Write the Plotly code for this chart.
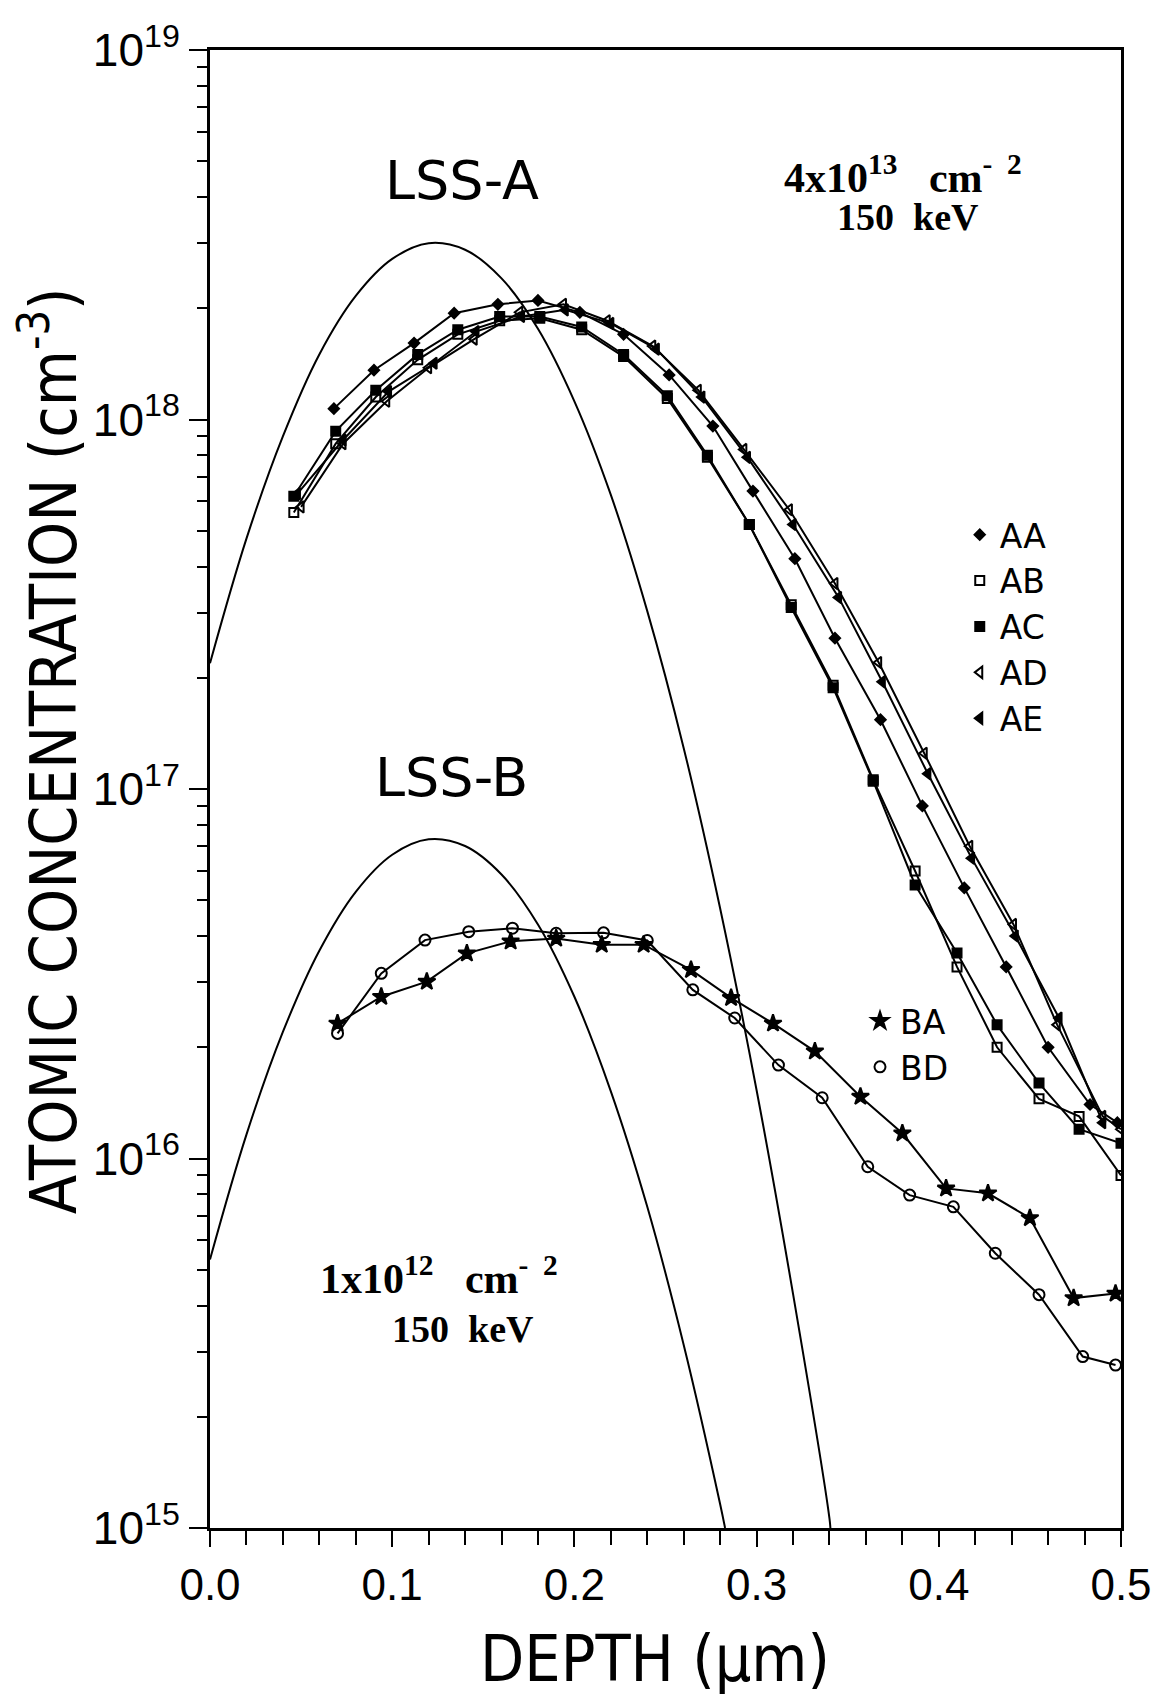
import plotly.graph_objects as go

# ---------------- data ----------------
lss_x = [0.0, 0.02, 0.04, 0.06, 0.08, 0.10, 0.12, 0.14, 0.16, 0.18, 0.20,
         0.22, 0.24, 0.26, 0.28, 0.30, 0.32, 0.34, 0.3405]
lss_a = [2.19e17, 4.76e17, 9.0e17, 1.50e18, 2.16e18, 2.72e18, 3.0e18, 2.88e18,
         2.41e18, 1.76e18, 1.12e18, 6.25e17, 3.03e17, 1.29e17, 4.75e16,
         1.53e16, 4.3e15, 1.06e15, 1.0e15]
lssb_x = [0.0, 0.02, 0.04, 0.06, 0.08, 0.10, 0.12, 0.14, 0.16, 0.18, 0.20,
          0.22, 0.24, 0.26, 0.28, 0.2827]
lss_b = [5.33e15, 1.16e16, 2.20e16, 3.65e16, 5.27e16, 6.64e16, 7.31e16, 7.01e16,
         5.87e16, 4.30e16, 2.74e16, 1.52e16, 7.4e15, 3.13e15, 1.16e15, 1.0e15]

aa_x = [0.068, 0.090, 0.112, 0.134, 0.158, 0.180, 0.203, 0.227, 0.252, 0.276,
        0.298, 0.321, 0.343, 0.368, 0.391, 0.414, 0.437, 0.460, 0.483, 0.498]
aa_y = [1.07e18, 1.36e18, 1.61e18, 1.94e18, 2.05e18, 2.1e18, 1.95e18, 1.70e18,
        1.32e18, 9.6e17, 6.4e17, 4.2e17, 2.56e17, 1.54e17, 9.0e16, 5.4e16,
        3.3e16, 2.0e16, 1.4e16, 1.25e16]

ab_x = [0.046, 0.069, 0.091, 0.114, 0.136, 0.159, 0.181, 0.204, 0.227, 0.251,
        0.273, 0.296, 0.319, 0.342, 0.364, 0.387, 0.410, 0.432, 0.455, 0.477, 0.500]
ab_y = [5.6e17, 8.6e17, 1.15e18, 1.45e18, 1.7e18, 1.85e18, 1.88e18, 1.75e18,
        1.48e18, 1.14e18, 7.9e17, 5.2e17, 3.15e17, 1.91e17, 1.06e17, 6.0e16,
        3.3e16, 2.0e16, 1.45e16, 1.3e16, 9.0e15]

ac_x = [0.046, 0.069, 0.091, 0.114, 0.136, 0.159, 0.181, 0.204, 0.227, 0.251,
        0.273, 0.296, 0.319, 0.342, 0.364, 0.387, 0.410, 0.432, 0.455, 0.477, 0.500]
ac_y = [6.2e17, 9.3e17, 1.2e18, 1.5e18, 1.75e18, 1.9e18, 1.9e18, 1.78e18,
        1.5e18, 1.16e18, 8.0e17, 5.2e17, 3.1e17, 1.88e17, 1.05e17, 5.5e16,
        3.6e16, 2.3e16, 1.6e16, 1.2e16, 1.1e16]

ad_x = [0.050, 0.073, 0.097, 0.120, 0.145, 0.170, 0.194, 0.218, 0.243, 0.268,
        0.293, 0.318, 0.343, 0.367, 0.392, 0.417, 0.441, 0.465, 0.490, 0.500]
ad_y = [5.8e17, 8.6e17, 1.12e18, 1.38e18, 1.65e18, 1.95e18, 2.05e18, 1.85e18,
        1.58e18, 1.2e18, 8.3e17, 5.7e17, 3.6e17, 2.2e17, 1.25e17, 7.0e16,
        4.3e16, 2.3e16, 1.3e16, 1.2e16]

ae_x = [0.048, 0.073, 0.098, 0.123, 0.146, 0.171, 0.195, 0.220, 0.245, 0.270,
        0.295, 0.320, 0.345, 0.369, 0.394, 0.418, 0.442, 0.466, 0.490]
ae_y = [6.3e17, 8.8e17, 1.19e18, 1.42e18, 1.73e18, 1.9e18, 1.98e18, 1.82e18,
        1.55e18, 1.15e18, 7.9e17, 5.2e17, 3.3e17, 1.95e17, 1.1e17, 6.5e16,
        4.0e16, 2.4e16, 1.25e16]

ba_x = [0.070, 0.094, 0.119, 0.141, 0.165, 0.190, 0.215, 0.238, 0.264, 0.286,
        0.309, 0.332, 0.357, 0.380, 0.404, 0.427, 0.450, 0.474, 0.497]
ba_y = [2.32e16, 2.74e16, 3.01e16, 3.59e16, 3.87e16, 3.94e16, 3.79e16, 3.79e16,
        3.24e16, 2.72e16, 2.32e16, 1.95e16, 1.47e16, 1.17e16, 8.3e15, 8.05e15,
        6.9e15, 4.19e15, 4.31e15]

bd_x = [0.070, 0.094, 0.118, 0.142, 0.166, 0.190, 0.216, 0.240, 0.265, 0.288,
        0.312, 0.336, 0.361, 0.384, 0.408, 0.431, 0.455, 0.479, 0.497]
bd_y = [2.18e16, 3.17e16, 3.90e16, 4.11e16, 4.20e16, 4.07e16, 4.08e16, 3.89e16,
        2.86e16, 2.40e16, 1.79e16, 1.46e16, 9.5e15, 7.96e15, 7.4e15, 5.54e15,
        4.28e15, 2.91e15, 2.76e15]

x_ticks = [0.0, 0.1, 0.2, 0.3, 0.4, 0.5]
x_labels = ["0.0", "0.1", "0.2", "0.3", "0.4", "0.5"]
y_ticks = [1e15, 1e16, 1e17, 1e18, 1e19]
y_labels = ["10<sup>15</sup>", "10<sup>16</sup>", "10<sup>17</sup>",
            "10<sup>18</sup>", "10<sup>19</sup>"]

# ---------------- figure ----------------
SANS = "DejaVu Sans Condensed, Liberation Sans Narrow, DejaVu Sans, sans-serif"
TICK = "Liberation Sans Narrow, Liberation Sans, Arial, sans-serif"
ROUND = "DejaVu Sans, Verdana, sans-serif"
SERIF = "Liberation Serif, Times New Roman, serif"

fig = go.Figure()
line = dict(color="black", width=2)

fig.add_trace(go.Scatter(x=lss_x, y=lss_a, mode="lines",
                         line=dict(color="black", width=2, shape="spline"), showlegend=False))
fig.add_trace(go.Scatter(x=lssb_x, y=lss_b, mode="lines",
                         line=dict(color="black", width=2, shape="spline"), showlegend=False))

series = [
    ("AA", aa_x, aa_y, "diamond", 8, "legend"),
    ("AB", ab_x, ab_y, "square-open", 9, "legend"),
    ("AC", ac_x, ac_y, "square", 9, "legend"),
    ("AD", ad_x, ad_y, "triangle-left-open", 10, "legend"),
    ("AE", ae_x, ae_y, "triangle-left", 10, "legend"),
    ("BA", ba_x, ba_y, "star", 13, "legend2"),
    ("BD", bd_x, bd_y, "circle-open", 11, "legend2"),
]
for name, xs, ys, sym, sz, lg in series:
    fig.add_trace(go.Scatter(x=xs, y=ys, mode="lines+markers", line=line,
                             marker=dict(symbol=sym, size=sz, color="black",
                                         line=dict(color="black", width=2)),
                             showlegend=False))
    fig.add_trace(go.Scatter(x=[None], y=[None], mode="markers", name=name, legend=lg,
                             marker=dict(symbol=sym, size=sz, color="black",
                                         line=dict(color="black", width=2))))

fig.update_layout(
    width=1153, height=1705,
    margin=dict(l=210, r=32, t=50, b=177, autoexpand=False),
    plot_bgcolor="white", paper_bgcolor="white",
    font=dict(family=SANS, color="black"),
    legend=dict(x=0.823, y=0.691, xanchor="left", yanchor="top",
                font=dict(family=ROUND, size=33, color="black"),
                bgcolor="rgba(0,0,0,0)", itemwidth=30, tracegroupgap=0),
    legend2=dict(x=0.7135, y=0.362, xanchor="left", yanchor="top",
                 font=dict(family=ROUND, size=33, color="black"),
                 bgcolor="rgba(0,0,0,0)", itemwidth=30, tracegroupgap=0),
)

fig.update_xaxes(
    range=[0, 0.5], tickvals=x_ticks, ticktext=x_labels, automargin=False,
    ticks="outside", ticklen=16, tickwidth=2, tickcolor="black",
    tickfont=dict(family=TICK, size=44), ticklabeloverflow="allow",
    minor=dict(dtick=0.02, tick0=0, ticks="outside", ticklen=14, tickwidth=2, tickcolor="black"),
    showline=True, linecolor="black", linewidth=3, mirror=True,
    showgrid=False, zeroline=False,
)
fig.update_yaxes(
    type="log", range=[15, 19], tickvals=y_ticks, ticktext=y_labels, automargin=False,
    ticks="outside", ticklen=18, tickwidth=2, tickcolor="black",
    tickfont=dict(family=TICK, size=46), ticklabeloverflow="allow",
    minor=dict(dtick="D1", ticks="outside", ticklen=10, tickwidth=2, tickcolor="black", showgrid=False),
    showline=True, linecolor="black", linewidth=3, mirror=True,
    showgrid=False, zeroline=False,
)

ann = [
    dict(text="ATOMIC CONCENTRATION (cm<sup>-3</sup>)", x=-0.177, y=0.526, textangle=-90,
         font=dict(family=SANS, size=64)),
    dict(text="DEPTH (µm)", x=0.4885, y=-0.0886, font=dict(family=SANS, size=64)),
    dict(text="LSS-A", x=0.2766, y=0.912, font=dict(family=ROUND, size=54)),
    dict(text="LSS-B", x=0.265, y=0.5076, font=dict(family=ROUND, size=54)),
    dict(text="<b>4x10<sup>13</sup>   cm<sup>-  2</sup></b>", x=0.761, y=0.916,
         font=dict(family=SERIF, size=42)),
    dict(text="<b>150  keV</b>", x=0.766, y=0.8867, font=dict(family=SERIF, size=38)),
    dict(text="<b>1x10<sup>12</sup>   cm<sup>-  2</sup></b>", x=0.2518, y=0.171,
         font=dict(family=SERIF, size=42)),
    dict(text="<b>150  keV</b>", x=0.278, y=0.1346, font=dict(family=SERIF, size=38)),
]
for a in ann:
    a.update(xref="paper", yref="paper", showarrow=False, xanchor="center", yanchor="middle")
    fig.add_annotation(**a)

fig.write_html("out.html")
